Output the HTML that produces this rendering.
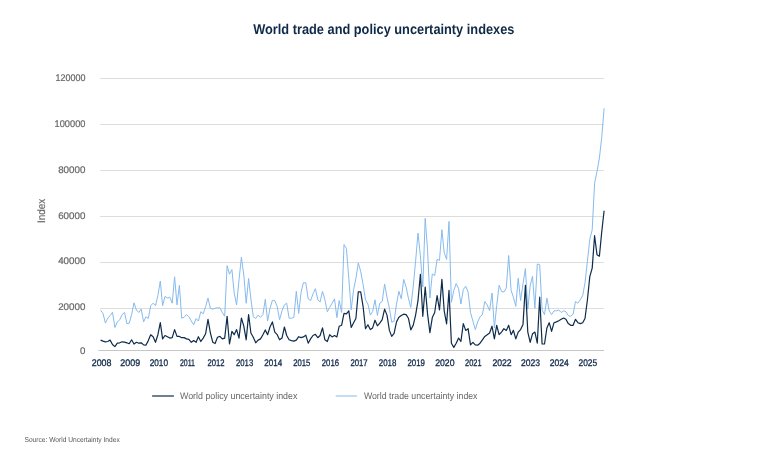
<!DOCTYPE html>
<html><head><meta charset="utf-8"><title>World trade and policy uncertainty indexes</title>
<style>
html,body{margin:0;padding:0;background:#fff;}
body{width:770px;height:470px;overflow:hidden;font-family:"Liberation Sans",sans-serif;}
svg{display:block;will-change:transform;text-rendering:geometricPrecision;}
text{font-family:"Liberation Sans",sans-serif;}
.yl{font-size:9.7px;fill:#666;stroke:#666;stroke-width:0.2px;}
.xl{font-size:9.6px;fill:#10284a;stroke:#10284a;stroke-width:0.3px;}
.lg{font-size:9.5px;fill:#666;}
</style></head><body>
<svg width="770" height="470" viewBox="0 0 770 470">
<rect width="770" height="470" fill="#fff"/>
<text x="253.2" y="33.7" textLength="261.2" lengthAdjust="spacingAndGlyphs" font-size="14.2" font-weight="bold" fill="#0f2a48">World trade and policy uncertainty indexes</text>

<line x1="100" x2="604" y1="78.5" y2="78.5" stroke="#dddddd" stroke-width="1"/>
<text class="yl" x="55.6" y="81" textLength="29.8" lengthAdjust="spacingAndGlyphs">120000</text>
<line x1="100" x2="604" y1="124.5" y2="124.5" stroke="#dddddd" stroke-width="1"/>
<text class="yl" x="54.6" y="127" textLength="30.8" lengthAdjust="spacingAndGlyphs">100000</text>
<line x1="100" x2="604" y1="170.5" y2="170.5" stroke="#dddddd" stroke-width="1"/>
<text class="yl" x="58.2" y="173" textLength="27.2" lengthAdjust="spacingAndGlyphs">80000</text>
<line x1="100" x2="604" y1="216.5" y2="216.5" stroke="#dddddd" stroke-width="1"/>
<text class="yl" x="58.2" y="219" textLength="27.2" lengthAdjust="spacingAndGlyphs">60000</text>
<line x1="100" x2="604" y1="262.5" y2="262.5" stroke="#dddddd" stroke-width="1"/>
<text class="yl" x="58.2" y="264" textLength="27.2" lengthAdjust="spacingAndGlyphs">40000</text>
<line x1="100" x2="604" y1="308.5" y2="308.5" stroke="#dddddd" stroke-width="1"/>
<text class="yl" x="58.2" y="310" textLength="27.2" lengthAdjust="spacingAndGlyphs">20000</text>
<text class="yl" x="85.4" y="354" text-anchor="end">0</text>
<line x1="98.4" x2="604" y1="350.5" y2="350.5" stroke="#c6c6c6" stroke-width="1"/>
<text transform="translate(45.1,223.1) rotate(-90)" font-size="10.8" fill="#666" stroke="#666" stroke-width="0.15" textLength="24.2" lengthAdjust="spacingAndGlyphs">Index</text>
<text class="xl" x="91.7" y="366" textLength="19.8" lengthAdjust="spacingAndGlyphs">2008</text>
<text class="xl" x="120.3" y="366" textLength="19.8" lengthAdjust="spacingAndGlyphs">2009</text>
<text class="xl" x="149.7" y="366" textLength="18.3" lengthAdjust="spacingAndGlyphs">2010</text>
<text class="xl" x="179.9" y="366" textLength="15.0" lengthAdjust="spacingAndGlyphs">2011</text>
<text class="xl" x="207.4" y="366" textLength="17.1" lengthAdjust="spacingAndGlyphs">2012</text>
<text class="xl" x="236.0" y="366" textLength="17.2" lengthAdjust="spacingAndGlyphs">2013</text>
<text class="xl" x="264.3" y="366" textLength="17.9" lengthAdjust="spacingAndGlyphs">2014</text>
<text class="xl" x="293.2" y="366" textLength="17.2" lengthAdjust="spacingAndGlyphs">2015</text>
<text class="xl" x="321.8" y="366" textLength="17.2" lengthAdjust="spacingAndGlyphs">2016</text>
<text class="xl" x="350.4" y="366" textLength="17.2" lengthAdjust="spacingAndGlyphs">2017</text>
<text class="xl" x="378.8" y="366" textLength="17.6" lengthAdjust="spacingAndGlyphs">2018</text>
<text class="xl" x="407.5" y="366" textLength="17.5" lengthAdjust="spacingAndGlyphs">2019</text>
<text class="xl" x="435.2" y="366" textLength="19.3" lengthAdjust="spacingAndGlyphs">2020</text>
<text class="xl" x="465.1" y="366" textLength="16.5" lengthAdjust="spacingAndGlyphs">2021</text>
<text class="xl" x="492.4" y="366" textLength="19.3" lengthAdjust="spacingAndGlyphs">2022</text>
<text class="xl" x="521.1" y="366" textLength="19.0" lengthAdjust="spacingAndGlyphs">2023</text>
<text class="xl" x="549.7" y="366" textLength="19.0" lengthAdjust="spacingAndGlyphs">2024</text>
<text class="xl" x="578.5" y="366" textLength="18.6" lengthAdjust="spacingAndGlyphs">2025</text>
<path d="M100.6 310.3 L103.0 313.4 L105.4 323.1 L107.8 318.2 L110.1 315.6 L112.5 312.2 L114.9 327.5 L117.3 321.9 L119.7 319.9 L122.1 314.6 L124.5 312.5 L126.9 323.6 L129.2 323.3 L131.6 314.6 L134.0 302.8 L136.4 310.0 L138.8 312.5 L141.2 309.1 L143.6 321.9 L145.9 316.8 L148.3 318.5 L150.7 305.7 L153.1 303.2 L155.5 305.7 L157.9 295.5 L160.3 281.1 L162.6 305.7 L165.0 296.4 L167.4 298.1 L169.8 297.2 L172.2 303.2 L174.6 276.8 L177.0 304.9 L179.4 285.3 L181.7 318.2 L184.1 317.3 L186.5 314.6 L188.9 316.8 L191.3 321.0 L193.7 324.8 L196.1 318.5 L198.4 321.0 L200.8 311.7 L203.2 313.9 L205.6 306.6 L208.0 298.1 L210.4 308.3 L212.8 309.1 L215.1 308.3 L217.5 307.8 L219.9 307.8 L222.3 312.5 L224.7 316.3 L227.1 265.7 L229.5 274.2 L231.9 269.5 L234.2 293.0 L236.6 304.9 L239.0 279.8 L241.4 257.2 L243.8 275.0 L246.2 303.3 L248.6 278.5 L250.9 299.0 L253.3 316.8 L255.7 318.5 L258.1 315.1 L260.5 317.3 L262.9 314.6 L265.3 299.3 L267.6 321.0 L270.0 308.3 L272.4 300.3 L274.8 300.6 L277.2 306.6 L279.6 319.7 L282.0 310.8 L284.4 304.9 L286.7 303.2 L289.1 318.2 L291.5 318.2 L293.9 317.3 L296.3 291.3 L298.7 313.4 L301.1 292.1 L303.4 282.8 L305.8 282.8 L308.2 298.9 L310.6 300.6 L313.0 293.8 L315.4 288.7 L317.8 299.8 L320.1 302.0 L322.5 291.3 L324.9 299.8 L327.3 311.7 L329.7 307.4 L332.1 303.2 L334.5 298.9 L336.9 317.6 L339.2 300.6 L341.6 312.5 L344.0 244.5 L346.4 248.4 L348.8 278.5 L351.2 309.8 L353.6 289.6 L355.9 278.5 L358.3 262.9 L360.7 271.4 L363.1 284.5 L365.5 299.8 L367.9 304.0 L370.3 315.1 L372.6 311.7 L375.0 299.8 L377.4 315.4 L379.8 303.2 L382.2 301.5 L384.6 284.0 L387.0 297.2 L389.4 308.3 L391.7 322.2 L394.1 321.2 L396.5 304.0 L398.9 291.3 L401.3 298.9 L403.7 279.4 L406.1 287.0 L408.4 298.1 L410.8 307.4 L413.2 287.0 L415.6 261.2 L418.0 233.1 L420.4 256.0 L422.8 287.0 L425.2 218.3 L427.5 249.2 L429.9 298.0 L432.3 273.9 L434.7 275.6 L437.1 259.4 L439.5 260.3 L441.9 229.7 L444.2 252.6 L446.6 259.4 L449.0 221.5 L451.4 302.3 L453.8 290.4 L456.2 283.6 L458.6 288.7 L460.9 304.0 L463.3 289.6 L465.7 286.2 L468.1 292.1 L470.5 312.5 L472.9 321.0 L475.3 329.6 L477.7 321.9 L480.0 316.8 L482.4 314.6 L484.8 301.5 L487.2 304.9 L489.6 310.8 L492.0 293.0 L494.4 327.9 L496.7 305.7 L499.1 285.3 L501.5 291.3 L503.9 292.1 L506.3 287.9 L508.7 255.5 L511.1 290.4 L513.4 297.2 L515.8 306.3 L518.2 278.3 L520.6 300.6 L523.0 283.6 L525.4 268.6 L527.8 309.2 L530.2 285.3 L532.5 276.3 L534.9 308.3 L537.3 264.0 L539.7 264.7 L542.1 310.0 L544.5 314.6 L546.9 298.1 L549.2 310.8 L551.6 314.6 L554.0 310.8 L556.4 310.8 L558.8 310.0 L561.2 312.5 L563.6 310.8 L565.9 311.7 L568.3 315.6 L570.7 316.3 L573.1 314.2 L575.5 301.5 L577.9 303.2 L580.3 299.8 L582.7 295.5 L585.0 282.8 L587.4 261.3 L589.8 239.1 L592.2 229.8 L594.6 183.2 L597.0 171.5 L599.4 158.0 L601.7 137.5 L604.1 108.3" fill="none" stroke="#86bbed" stroke-width="1" stroke-linejoin="round"/>
<path d="M100.6 340.1 L103.0 341.1 L105.4 341.8 L107.8 341.5 L110.1 340.1 L112.5 344.5 L114.9 346.6 L117.3 343.2 L119.7 342.8 L122.1 341.8 L124.5 342.1 L126.9 342.8 L129.2 343.7 L131.6 339.8 L134.0 344.0 L136.4 342.3 L138.8 343.2 L141.2 342.8 L143.6 344.9 L145.9 345.2 L148.3 340.6 L150.7 334.7 L153.1 336.7 L155.5 342.3 L157.9 334.7 L160.3 322.7 L162.6 338.9 L165.0 335.5 L167.4 336.7 L169.8 338.1 L172.2 337.7 L174.6 329.6 L177.0 336.4 L179.4 336.4 L181.7 337.7 L184.1 337.6 L186.5 338.9 L188.9 339.4 L191.3 342.3 L193.7 340.6 L196.1 342.3 L198.4 336.7 L200.8 341.5 L203.2 338.1 L205.6 333.8 L208.0 319.3 L210.4 333.0 L212.8 342.3 L215.1 343.5 L217.5 337.2 L219.9 336.4 L222.3 338.9 L224.7 338.1 L227.1 316.3 L229.5 344.0 L231.9 331.3 L234.2 334.7 L236.6 329.6 L239.0 338.1 L241.4 318.0 L243.8 326.2 L246.2 339.8 L248.6 314.6 L250.9 333.0 L253.3 337.2 L255.7 342.8 L258.1 340.1 L260.5 338.9 L262.9 334.7 L265.3 329.9 L267.6 334.7 L270.0 327.0 L272.4 321.9 L274.8 332.1 L277.2 334.7 L279.6 339.8 L282.0 338.1 L284.4 327.0 L286.7 335.5 L289.1 339.8 L291.5 340.6 L293.9 341.1 L296.3 340.1 L298.7 336.7 L301.1 337.6 L303.4 336.9 L305.8 335.2 L308.2 343.2 L310.6 338.9 L313.0 335.5 L315.4 334.3 L317.8 337.7 L320.1 335.5 L322.5 327.9 L324.9 339.8 L327.3 341.5 L329.7 334.7 L332.1 336.9 L334.5 335.5 L336.9 336.9 L339.2 326.2 L341.6 325.3 L344.0 313.4 L346.4 313.9 L348.8 310.8 L351.2 327.5 L353.6 322.7 L355.9 318.5 L358.3 291.8 L360.7 291.8 L363.1 306.6 L365.5 328.7 L367.9 324.8 L370.3 329.6 L372.6 327.9 L375.0 320.2 L377.4 325.8 L379.8 323.1 L382.2 319.7 L384.6 309.1 L387.0 315.1 L389.4 330.4 L391.7 336.4 L394.1 333.3 L396.5 321.9 L398.9 317.3 L401.3 315.6 L403.7 314.2 L406.1 314.6 L408.4 318.2 L410.8 329.9 L413.2 325.3 L415.6 315.1 L418.0 300.6 L420.4 274.3 L422.8 316.3 L425.2 287.0 L427.5 313.4 L429.9 332.6 L432.3 317.6 L434.7 312.5 L437.1 295.5 L439.5 310.0 L441.9 279.4 L444.2 310.8 L446.6 324.0 L449.0 290.4 L451.4 343.2 L453.8 347.4 L456.2 343.2 L458.6 338.1 L460.9 341.5 L463.3 323.6 L465.7 330.4 L468.1 328.7 L470.5 344.9 L472.9 342.3 L475.3 344.9 L477.7 345.2 L480.0 343.2 L482.4 339.8 L484.8 336.4 L487.2 334.7 L489.6 333.0 L492.0 326.2 L494.4 338.9 L496.7 325.3 L499.1 334.7 L501.5 332.1 L503.9 328.7 L506.3 330.4 L508.7 325.3 L511.1 334.7 L513.4 330.4 L515.8 338.9 L518.2 332.1 L520.6 329.6 L523.0 324.4 L525.4 285.3 L527.8 332.1 L530.2 342.3 L532.5 333.8 L534.9 332.1 L537.3 343.2 L539.7 297.2 L542.1 344.0 L544.5 344.0 L546.9 327.9 L549.2 322.7 L551.6 331.3 L554.0 322.7 L556.4 321.9 L558.8 320.7 L561.2 319.3 L563.6 318.0 L565.9 319.3 L568.3 323.6 L570.7 325.3 L573.1 325.3 L575.5 319.3 L577.9 322.7 L580.3 323.6 L582.7 322.7 L585.0 318.5 L587.4 300.0 L589.8 276.6 L592.2 268.1 L594.6 235.7 L597.0 254.8 L599.4 256.2 L601.7 232.3 L604.1 210.7" fill="none" stroke="#0d2b4a" stroke-width="1.2" stroke-linejoin="round"/>
<line x1="152.1" x2="173.9" y1="396" y2="396" stroke="#0d2b4a" stroke-width="1.2"/>
<text class="lg" x="180" y="398.8" textLength="117.4" lengthAdjust="spacingAndGlyphs">World policy uncertainty index</text>
<line x1="335.7" x2="357.1" y1="396" y2="396" stroke="#7cb5ec" stroke-width="0.92"/>
<text class="lg" x="363.9" y="398.8" textLength="113.6" lengthAdjust="spacingAndGlyphs">World trade uncertainty index</text>
<text x="24.5" y="441.8" font-size="7.2" fill="#555" textLength="95.2" lengthAdjust="spacingAndGlyphs">Source: World Uncertainty Index</text>
</svg></body></html>
